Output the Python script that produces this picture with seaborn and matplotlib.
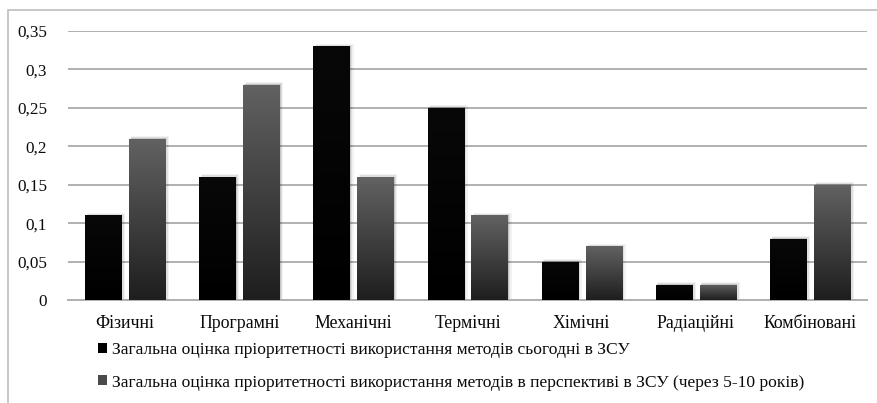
import numpy as np
import pandas as pd
import matplotlib
matplotlib.use("Agg")
import matplotlib.pyplot as plt
import seaborn as sns
from matplotlib.patches import Rectangle, Patch
from matplotlib.colors import LinearSegmentedColormap

categories = ["Фізичні", "Програмні", "Механічні", "Термічні", "Хімічні", "Радіаційні", "Комбіновані"]
today = [0.11, 0.16, 0.33, 0.25, 0.05, 0.02, 0.08]
future = [0.21, 0.28, 0.16, 0.11, 0.07, 0.02, 0.15]
series_names = [
    "Загальна оцінка пріоритетності використання методів сьогодні в ЗСУ",
    "Загальна оцінка пріоритетності використання методів в перспективі в ЗСУ (через 5-10 років)",
]
yticks = [0, 0.05, 0.1, 0.15, 0.2, 0.25, 0.3, 0.35]
ytick_labels = ["0", "0,05", "0,1", "0,15", "0,2", "0,25", "0,3", "0,35"]

df = pd.DataFrame({
    "cat": categories * 2,
    "val": today + future,
    "series": [series_names[0]] * len(categories) + [series_names[1]] * len(categories),
})

sns.set_theme(style="white")
plt.rcParams["font.family"] = "serif"
plt.rcParams["font.serif"] = ["Liberation Serif", "DejaVu Serif"]

fig = plt.figure(figsize=(8.77, 4.03), dpi=100)
ax = fig.add_axes([68 / 877, 103 / 403, (867 - 68) / 877, 269 / 403])

sns.barplot(data=df, x="cat", y="val", hue="series", order=categories,
            hue_order=series_names, palette=["#000000", "#444444"],
            width=0.77, gap=0.18, ax=ax, legend=False, edgecolor="none",
            linewidth=0, zorder=3)

# gradient fill and soft shadows for the bars
grad_cmap = LinearSegmentedColormap.from_list("g", ["#1e1e1e", "#626262"])
blk_cmap = LinearSegmentedColormap.from_list("b", ["#000000", "#080808"])
n = len(categories)
for i, p in enumerate(ax.patches):
    x0, w, h = p.get_x(), p.get_width(), p.get_height()
    if h <= 0:
        continue
    for k, a in enumerate([0.12, 0.08, 0.05]):
        off = 0.012 * (k + 1)
        sh = Rectangle((x0 + off * 0.6, 0), w + off * 0.4, h + 0.0015 * (k + 1) - 0.001,
                       facecolor="#000000", alpha=a, edgecolor="none", zorder=2)
        ax.add_patch(sh)
    cmap = blk_cmap if i < n else grad_cmap
    im = ax.imshow(np.linspace(0, 1, 256).reshape(-1, 1), cmap=cmap, origin="lower",
                   extent=[x0, x0 + w, 0, h], aspect="auto", zorder=4)
    im.set_clip_path(p)

ax.set_xlim(-0.5, n - 0.5)
ax.set_ylim(0, 0.35)
ax.set_yticks(yticks)
ax.set_yticklabels(ytick_labels)
ax.yaxis.grid(True, color="#b0b0b0", linewidth=1.4, zorder=0)
ax.set_axisbelow(True)
for s in ["top", "right", "left"]:
    ax.spines[s].set_visible(False)
ax.spines["bottom"].set_color("#b0b0b0")
ax.spines["bottom"].set_linewidth(1.4)
ax.set_xlabel("")
ax.set_ylabel("")
ax.tick_params(axis="both", length=0, colors="#0a0a0a")
ax.tick_params(axis="y", pad=15, labelsize=12.3)
ax.tick_params(axis="x", pad=11, labelsize=12.8)

handles = [Patch(facecolor="#000000", edgecolor="none"),
           Patch(facecolor="#4a4a4a", edgecolor="none")]
leg = fig.legend(handles, series_names, loc="upper left", bbox_to_anchor=(98 / 877, 1 - 342 / 403),
                 frameon=False, fontsize=12.6, handlelength=0.5, handleheight=0.5,
                 handletextpad=0.3, labelspacing=0.95, borderpad=0, borderaxespad=0)
for t in leg.get_texts():
    t.set_color("#0a0a0a")

# outer chart border
fig.add_artist(Rectangle((8 / 877, -0.05), 1.0, 1 - 10 / 403 + 0.05, transform=fig.transFigure,
                         facecolor="none", edgecolor="#bdbdbd", linewidth=1.2))

fig.savefig("out.png", dpi=100)
